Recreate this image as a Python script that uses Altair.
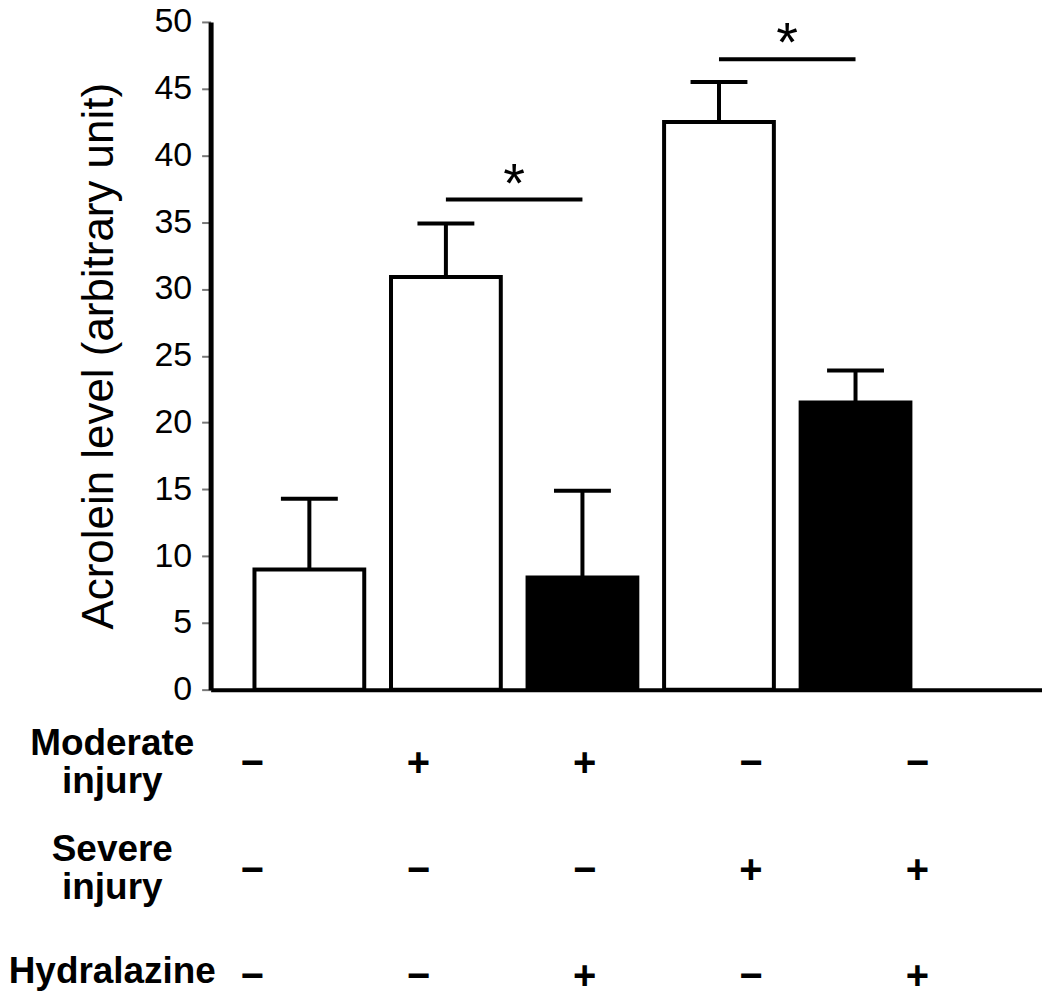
import altair as alt
import pandas as pd

# ---- data ----
groups = ["Control", "Moderate injury", "Moderate injury + Hydralazine",
          "Severe injury", "Severe injury + Hydralazine"]
acrolein_mean = [9.0, 30.9, 8.4, 42.5, 21.5]
acrolein_upper = [14.3, 34.9, 14.9, 45.5, 23.9]

moderate_injury = ["−", "+", "+", "−", "−"]
severe_injury = ["−", "−", "−", "+", "+"]
hydralazine = ["−", "−", "+", "−", "+"]
row_names = ["Moderate|injury", "Severe|injury", "Hydralazine"]

sig_from = ["Moderate injury", "Severe injury"]
sig_to = ["Moderate injury + Hydralazine", "Severe injury + Hydralazine"]
sig_level = [36.7, 47.2]
sig_mark = ["*", "*"]

y_ticks = [0, 5, 10, 15, 20, 25, 30, 35, 40, 45, 50]

FONT = "Liberation Sans"

bars_df = pd.DataFrame({
    "group": groups,
    "mean": acrolein_mean,
    "upper": acrolein_upper,
    "hyd": hydralazine,
})
sig_df = pd.DataFrame({"a": sig_from, "b": sig_to, "level": sig_level, "mark": sig_mark})

table_rows = []
for rname, symbols in zip(row_names, [moderate_injury, severe_injury, hydralazine]):
    for g, s in zip(groups, symbols):
        table_rows.append({"row": rname, "group": g, "sym": s})
table_df = pd.DataFrame(table_rows)

xscale = alt.Scale(domain=groups, paddingInner=0.196, paddingOuter=0.6425, align=0.25)

x_enc = alt.X("group:N", sort=groups, scale=xscale,
              axis=alt.Axis(labels=False, ticks=False, title=None,
                            domainColor="black", domainWidth=4))
yscale = alt.Scale(domain=[0, 50], nice=False)

base = alt.Chart(bars_df)

bars = base.mark_bar(stroke="black", strokeWidth=4).encode(
    x=x_enc,
    y=alt.Y("mean:Q", scale=yscale,
            axis=alt.Axis(values=y_ticks, title="Acrolein level (arbitrary unit)",
                          titleFont=FONT, titleFontSize=44, titleFontWeight="normal",
                          titleColor="black", titlePadding=32,
                          labelFont=FONT, labelFontSize=34, labelColor="black",
                          labelPadding=10, tickSize=9, tickWidth=2, tickColor="#777777",
                          domainColor="black", domainWidth=5, grid=False)),
    fill=alt.Fill("hyd:N", scale=alt.Scale(domain=["−", "+"], range=["white", "black"]),
                  legend=None),
)

err = base.mark_rule(color="black", strokeWidth=4).encode(
    x=alt.X("group:N", sort=groups, scale=xscale),
    y=alt.Y("mean:Q", scale=yscale),
    y2="upper:Q",
)

caps = base.mark_tick(color="black", size=57, thickness=4, opacity=1).encode(
    x=alt.X("group:N", sort=groups, scale=xscale),
    y=alt.Y("upper:Q", scale=yscale),
)

sig_base = alt.Chart(sig_df)
sig_lines = sig_base.mark_rule(color="black", strokeWidth=4).encode(
    x=alt.X("a:N", sort=groups, scale=xscale),
    x2="b:N",
    y=alt.Y("level:Q", scale=yscale),
)
sig_text = sig_base.mark_text(font=FONT, fontSize=56, color="black",
                              baseline="alphabetic", dx=68.4, dy=2).encode(
    x=alt.X("a:N", sort=groups, scale=xscale),
    y=alt.Y("level:Q", scale=yscale),
    text="mark:N",
)

top = alt.layer(err, bars, caps, sig_lines, sig_text).properties(width=833, height=669)

table = alt.Chart(table_df).mark_text(font=FONT, fontSize=40, fontWeight="bold",
                                      color="black", baseline="middle").encode(
    x=alt.X("group:N", sort=groups, scale=xscale, axis=None),
    y=alt.Y("row:N", sort=row_names, scale=alt.Scale(type="point", padding=0),
            axis=alt.Axis(title=None, domain=False, ticks=False,
                          labelExpr="split(datum.value, '|')",
                          labelFont=FONT, labelFontSize=37, labelFontWeight="bold",
                          labelColor="black", labelAlign="center", labelBaseline="middle",
                          labelOffset=alt.condition("datum.value == 'Hydralazine'",
                                                    alt.value(-6), alt.value(-21)),
                          labelPadding=99, labelLineHeight=38, labelLimit=500)),
    text="sym:N",
).properties(width=833, height=213)

chart = alt.vconcat(top, table, spacing=75, bounds="flush").properties(
    padding={"left": 0, "top": -4, "right": 0, "bottom": 0}
).configure_view(stroke=None)

chart.save("out.html", embed_options={"renderer": "svg", "actions": False})
